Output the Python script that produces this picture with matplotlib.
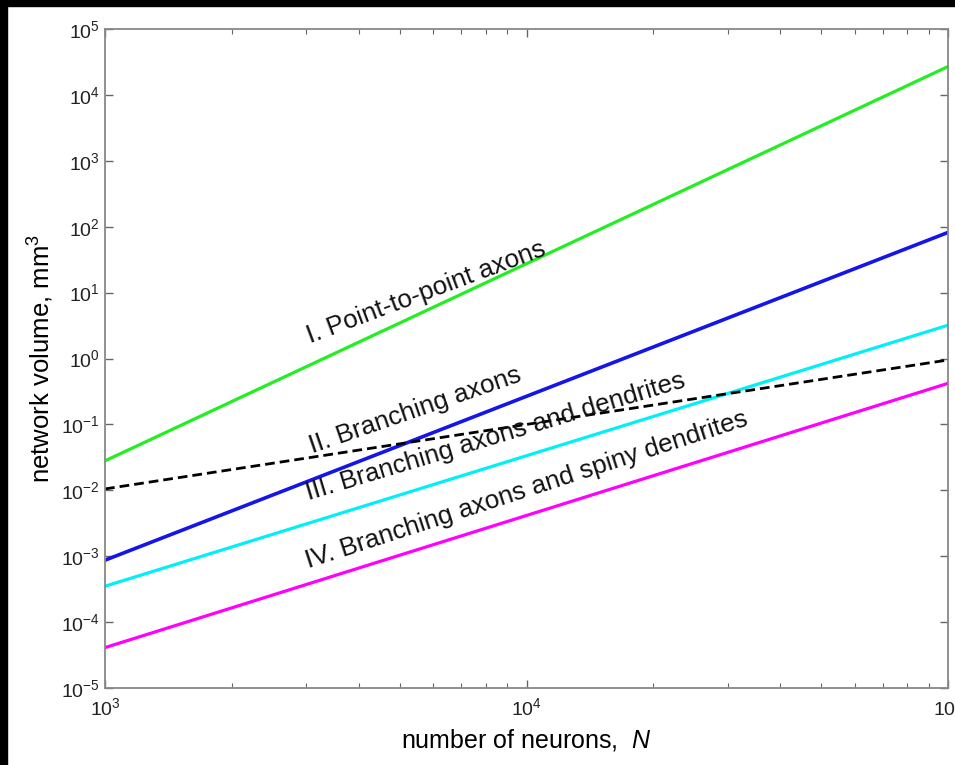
import matplotlib
matplotlib.use("Agg")
import matplotlib.pyplot as plt
from matplotlib.patches import Rectangle
import numpy as np

plt.rcParams['font.family'] = ['Liberation Sans', 'DejaVu Sans']
plt.rcParams['mathtext.fontset'] = 'custom'
plt.rcParams['mathtext.rm'] = 'Liberation Sans'
plt.rcParams['mathtext.it'] = 'Liberation Sans:italic'

# network size (end points of each power law)
neurons = [1e3, 1e5]

point_to_point = [0.028, 2.7e4]      # I, ~N^3
branching_axons = [8.7e-4, 82]       # II, ~N^2.5
axons_dendrites = [3.5e-4, 3.2]      # III, ~N^2
spiny_dendrites = [4.1e-5, 0.42]     # IV, ~N^2
reference_line = [0.0105, 0.95]      # dashed, ~N

labels = ["I. Point-to-point axons",
          "II. Branching axons",
          "III. Branching axons and dendrites",
          "IV. Branching axons and spiny dendrites"]
label_pos = [(3060, 1.7), (3100, 0.0368), (3035, 0.0071), (3035, 6.6e-4)]
label_rot = [20.5, 19, 16.7, 18]

fig = plt.figure(figsize=(9.55, 7.65), dpi=100)
ax = fig.add_axes([0.110, 0.1007, 0.8827, 0.8613])

lw = 2.3
ax.plot(neurons, point_to_point, color='#22ee22', lw=lw)
ax.plot(neurons, branching_axons, color='#1515e8', lw=lw + 0.3)
ax.plot(neurons, axons_dendrites, color='#00f0f8', lw=lw)
ax.plot(neurons, spiny_dendrites, color='#ff00ff', lw=lw)
ax.plot(neurons, reference_line, color='black', lw=2.0, ls=(0, (3.5, 1.8)))

for txt, (x, y), rot in zip(labels, label_pos, label_rot):
    ax.text(x, y, txt, fontsize=18.7, rotation=rot, rotation_mode='anchor',
            ha='left', va='baseline', color='#111111')

ax.set_xscale('log')
ax.set_yscale('log')
ax.set_xlim(1e3, 1e5)
ax.set_ylim(1e-5, 1e5)
ax.set_yticks([10.0 ** k for k in range(-5, 6)])
ax.set_xticks([1e3, 1e4, 1e5])

ax.set_xlabel("number of neurons,  $\\it{N}$", fontsize=18, labelpad=5)
ax.set_ylabel("network volume, mm$^3$", fontsize=18.5, labelpad=4)

for sp in ax.spines.values():
    sp.set_color('#888888')
    sp.set_linewidth(1.3)
ax.tick_params(which='both', direction='in', top=True, right=True,
               color='#666666', labelsize=14, labelcolor='#222222')
ax.tick_params(which='major', length=6, width=1)
ax.tick_params(which='minor', length=3.5, width=0.8)
ax.tick_params(axis='x', pad=7)

# black strips on the top and left edges of the image
fig.patches.append(Rectangle((0, 1 - 6 / 765), 1, 6 / 765, transform=fig.transFigure,
                             color='black', zorder=10))
fig.patches.append(Rectangle((0, 0), 7 / 955, 1, transform=fig.transFigure,
                             color='black', zorder=10))

fig.savefig("out.png", dpi=100)
